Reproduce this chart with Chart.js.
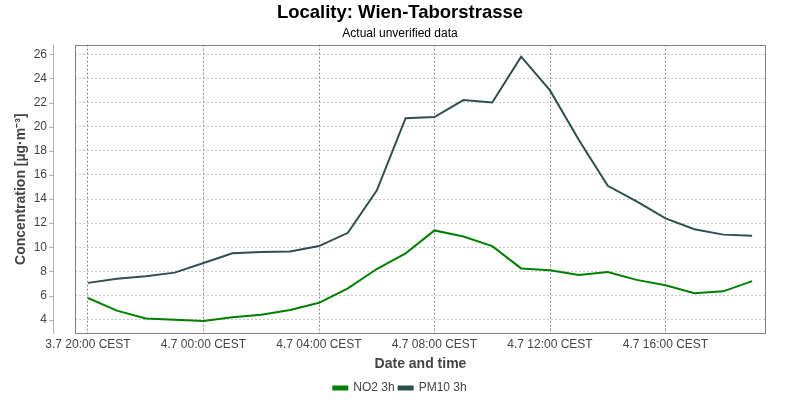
<!DOCTYPE html>
<html>
<head>
<meta charset="utf-8">
<script src="https://cdn.jsdelivr.net/npm/chart.js@4/dist/chart.umd.min.js"></script>
<style>
  html, body { margin: 0; padding: 0; background: #fff; }
  #wrap { width: 800px; height: 400px; }
</style>
</head>
<body>
<div id="wrap"><canvas id="chart" width="800" height="400"></canvas></div>
<script>
// hours since 3.7 20:00 CEST
const hours = [0, 1, 2, 3, 4, 5, 6, 7, 8, 9, 10, 11, 12, 13, 14, 15, 16, 17, 18, 19, 20, 21, 22, 23];
const no2 = [5.8, 4.75, 4.1, 4.0, 3.9, 4.2, 4.4, 4.8, 5.4, 6.6, 8.2, 9.5, 11.4, 10.9, 10.1, 8.25, 8.1, 7.7, 7.95, 7.3, 6.85, 6.2, 6.35, 7.2];
const pm10 = [7.05, 7.4, 7.6, 7.9, 8.7, 9.5, 9.6, 9.65, 10.1, 11.2, 14.7, 20.7, 20.8, 22.2, 22.0, 25.8, 23.0, 18.9, 15.1, 13.8, 12.4, 11.5, 11.05, 10.95];
const xTickHours = [0, 4, 8, 12, 16, 20];
const xTickLabels = ['3.7 20:00 CEST', '4.7 00:00 CEST', '4.7 04:00 CEST', '4.7 08:00 CEST', '4.7 12:00 CEST', '4.7 16:00 CEST'];
const yTicks = [4, 6, 8, 10, 12, 14, 16, 18, 20, 22, 24, 26];

const FONT = "'Liberation Sans', Arial, sans-serif";

const toPoints = vals => hours.map((h, i) => ({ x: h, y: vals[i] }));

// plot frame + detached range axis like the original
const framePlugin = {
  id: 'frame',
  afterDraw(chart) {
    const { ctx, chartArea: a, scales } = chart;
    ctx.save();
    ctx.strokeStyle = '#808080';
    ctx.lineWidth = 1;
    ctx.strokeRect(Math.round(a.left) + 0.5, Math.round(a.top) + 0.5,
      Math.round(a.right - a.left) - 1, Math.round(a.bottom - a.top) - 1);
    const ax = 53.5;
    ctx.strokeStyle = '#b0b0b0';
    ctx.beginPath();
    ctx.moveTo(ax, a.top);
    ctx.lineTo(ax, a.bottom);
    yTicks.forEach(v => {
      const y = Math.round(scales.y.getPixelForValue(v)) + 0.5;
      ctx.moveTo(ax - 4, y);
      ctx.lineTo(ax, y);
    });
    ctx.stroke();
    ctx.restore();
  }
};

new Chart(document.getElementById('chart'), {
  type: 'line',
  data: {
    datasets: [
      {
        label: 'NO2 3h',
        data: toPoints(no2),
        borderColor: '#008000',
        backgroundColor: '#008000',
        borderWidth: 2,
        pointRadius: 0,
        tension: 0,
      },
      {
        label: 'PM10 3h',
        data: toPoints(pm10),
        borderColor: '#2f4f4f',
        backgroundColor: '#2f4f4f',
        borderWidth: 2,
        pointRadius: 0,
        tension: 0,
      },
    ],
  },
  options: {
    responsive: false,
    animation: false,
    layout: { padding: { left: 0, right: 0, top: 0, bottom: -4 } },
    plugins: {
      title: {
        display: true,
        text: 'Locality: Wien-Taborstrasse',
        color: '#000',
        font: { family: FONT, size: 18.5, weight: 'bold' },
        padding: { top: 2, bottom: 2 },
      },
      subtitle: {
        display: true,
        text: 'Actual unverified data',
        color: '#000',
        font: { family: FONT, size: 12 },
        padding: { top: 0, bottom: 4 },
      },
      legend: {
        position: 'bottom',
        labels: {
          color: '#444',
          font: { family: FONT, size: 12 },
          boxWidth: 14,
          boxHeight: 3,
          padding: 4,
        },
      },
      tooltip: { enabled: false },
    },
    scales: {
      x: {
        type: 'linear',
        min: -0.45,
        max: 23.48,
        afterBuildTicks: scale => {
          scale.ticks = xTickHours.map(v => ({ value: v }));
        },
        ticks: {
          color: '#444',
          font: { family: FONT, size: 12 },
          padding: 4,
          maxRotation: 0,
          autoSkip: false,
          callback: v => xTickLabels[xTickHours.indexOf(v)],
        },
        grid: { color: '#888', drawTicks: false },
        border: { display: false, dash: [2, 2] },
        title: {
          display: true,
          text: 'Date and time',
          color: '#444',
          font: { family: FONT, size: 14, weight: 'bold' },
          padding: { top: 0, bottom: 5 },
        },
      },
      y: {
        min: 2.83,
        max: 26.8,
        afterBuildTicks: scale => {
          scale.ticks = yTicks.map(v => ({ value: v }));
        },
        afterFit: scale => { scale.width = 75; },
        ticks: {
          color: '#444',
          font: { family: FONT, size: 12 },
          padding: 28,
        },
        grid: { color: '#c4c4c4', drawTicks: false },
        border: { display: false, dash: [2, 2] },
        title: {
          display: true,
          text: 'Concentration [µg·m⁻³]',
          color: '#444',
          font: { family: FONT, size: 14, weight: 'bold' },
          padding: { top: 13, bottom: 0 },
        },
      },
      // empty right-hand spacer so the legend stays centred on the canvas
      spacer: {
        type: 'linear',
        position: 'right',
        display: true,
        afterFit: scale => { scale.width = 34; },
        ticks: { display: false },
        grid: { display: false },
        border: { display: false },
      },
    },
  },
  plugins: [framePlugin],
});
</script>
</body>
</html>
